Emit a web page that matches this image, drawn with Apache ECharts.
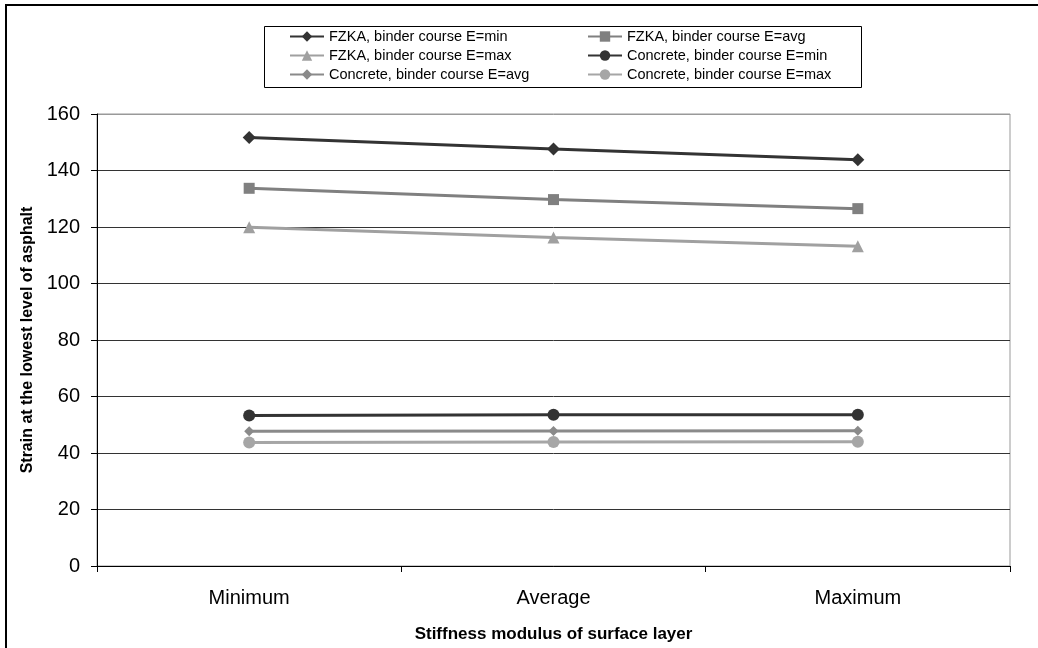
<!DOCTYPE html>
<html>
<head>
<meta charset="utf-8">
<script src="https://cdn.jsdelivr.net/npm/echarts@6/dist/echarts.min.js"></script>
<style>
html,body{margin:0;padding:0;background:#fff;}
#chart{width:1038px;height:648px;}
</style>
</head>
<body>
<div id="chart"></div>
<script>
var categories = ['Minimum', 'Average', 'Maximum'];
var fzkaMin = [151.7, 147.6, 143.8];
var fzkaAvg = [133.7, 129.7, 126.5];
var fzkaMax = [119.9, 116.3, 113.2];
var concMin = [53.3, 53.5, 53.5];
var concAvg = [47.7, 47.8, 47.9];
var concMax = [43.7, 43.9, 44.0];
var yTicks = [0, 20, 40, 60, 80, 100, 120, 140, 160];

var seriesNames = [
  'FZKA, binder course E=min',
  'FZKA, binder course E=avg',
  'FZKA, binder course E=max',
  'Concrete, binder course E=min',
  'Concrete, binder course E=avg',
  'Concrete, binder course E=max'
];

var font = '"Liberation Sans", Arial, sans-serif';

function mk(name, data, color, symbol, size) {
  return {
    name: name, type: 'line', data: data,
    symbol: symbol, symbolSize: size,
    lineStyle: {color: color, width: 3},
    itemStyle: {color: color},
    emphasis: {disabled: true},
    animation: false
  };
}

var chart = echarts.init(document.getElementById('chart'));
var legendCommon = {
  orient: 'vertical', top: 24, padding: 5, itemWidth: 34, itemHeight: 13, itemGap: 4,
  textStyle: {fontFamily: font, fontSize: 14.5, color: '#000'},
  selectedMode: false
};
chart.setOption({
  backgroundColor: '#fff',
  animation: false,
  graphic: [
    {type: 'rect', shape: {x: 6, y: 5, width: 1100, height: 700}, style: {fill: 'none', stroke: '#000', lineWidth: 2}, silent: true},
    {type: 'rect', shape: {x: 264.5, y: 26.5, width: 597, height: 61}, style: {fill: 'none', stroke: '#000', lineWidth: 1}, silent: true}
  ],
  legend: [
    Object.assign({left: 284, data: [seriesNames[0], seriesNames[2], seriesNames[4]]}, legendCommon),
    Object.assign({left: 582, data: [seriesNames[1], seriesNames[3], seriesNames[5]]}, legendCommon)
  ],
  grid: {left: 97, right: 28, top: 114, bottom: 80, show: true, borderColor: '#999', borderWidth: 1},
  xAxis: {
    type: 'category', data: categories, boundaryGap: true,
    name: 'Stiffness modulus of surface layer', nameLocation: 'middle', nameGap: 60,
    nameTextStyle: {fontFamily: font, fontSize: 17, fontWeight: 'bold', color: '#000'},
    axisLine: {lineStyle: {color: '#000', width: 1}},
    axisTick: {show: true, length: 6, lineStyle: {color: '#000'}},
    axisLabel: {fontFamily: font, fontSize: 20, color: '#000', margin: 22},
    splitLine: {show: false}
  },
  yAxis: {
    type: 'value', min: 0, max: 160, interval: 20,
    name: 'Strain at the lowest level of asphalt', nameLocation: 'middle', nameGap: 58,
    nameTextStyle: {fontFamily: font, fontSize: 16, fontWeight: 'bold', color: '#000'},
    axisLine: {show: true, lineStyle: {color: '#000', width: 1}},
    axisTick: {show: true, length: 6, lineStyle: {color: '#000'}},
    axisLabel: {fontFamily: font, fontSize: 20, color: '#000', margin: 17,
      formatter: function (v) { return yTicks.indexOf(v) >= 0 ? String(v) : ''; }},
    splitLine: {show: true, lineStyle: {color: ['#333','#333','#333','#333','#333','#333','#333','#333','#999'], width: 1}}
  },
  series: [
    mk(seriesNames[0], fzkaMin, '#333333', 'diamond', 13),
    mk(seriesNames[1], fzkaAvg, '#808080', 'rect', 11),
    mk(seriesNames[2], fzkaMax, '#a0a0a0', 'triangle', 12),
    mk(seriesNames[3], concMin, '#333333', 'circle', 12),
    mk(seriesNames[4], concAvg, '#8a8a8a', 'diamond', 10),
    mk(seriesNames[5], concMax, '#a6a6a6', 'circle', 12)
  ]
});
</script>
</body>
</html>
